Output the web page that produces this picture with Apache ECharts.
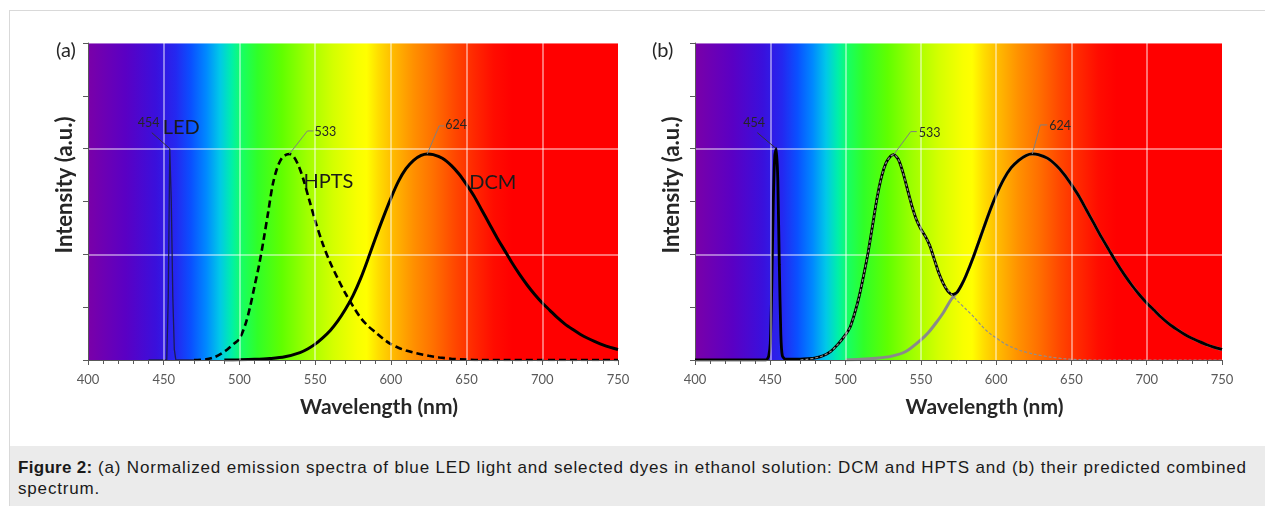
<!DOCTYPE html>
<html><head><meta charset="utf-8">
<script src="https://cdn.jsdelivr.net/npm/echarts@6/dist/echarts.min.js"></script>
<style>
html,body{margin:0;padding:0;background:#fff;}
#wrap{position:relative;width:1265px;height:506px;overflow:hidden;background:#fff;}
#frame{position:absolute;left:9px;top:10px;width:1270px;height:510px;border:1px solid #d9d9d9;box-sizing:border-box;}
#chart{position:absolute;left:0;top:0;width:1265px;height:446px;}
#cap{position:absolute;left:10px;top:446px;width:1255px;height:60px;background:#ebebeb;font-family:"Liberation Sans",Arial,sans-serif;font-size:17px;letter-spacing:0.83px;color:#1a1a1a;line-height:21px;padding:11px 0 0 8px;box-sizing:border-box;white-space:nowrap;}
</style></head>
<body>
<div id="wrap">
<div id="frame"></div>
<div id="chart"></div>
<div id="cap"><b style="letter-spacing:0.3px">Figure 2:</b> (a) Normalized emission spectra of blue LED light and selected dyes in ethanol solution: DCM and HPTS and (b) their predicted combined<br>spectrum.</div>
</div>
<script>
// ---- data (wavelength nm, normalized intensity) ----
const xTicks = [400, 450, 500, 550, 600, 650, 700, 750];
const ledA = [[440,0],[452,0],[453,0.3],[454,1.0],[455,0.75],[456,0.3],[457,0.05],[458,0],[470,0]];
const hptsA = [[470,0],[478,0.003],[483,0.012],[488,0.03],[492,0.05],[496,0.075],[500,0.1],[504,0.17],[507,0.25],[510,0.35],[513,0.45],[516,0.57],[519,0.7],[522,0.83],[525,0.91],[528,0.955],[531,0.972],[533,0.975],[536,0.96],[539,0.92],[542,0.86],[546,0.76],[550,0.66],[555,0.55],[560,0.46],[565,0.385],[570,0.315],[575,0.255],[580,0.2],[585,0.16],[590,0.13],[595,0.1],[600,0.075],[605,0.058],[610,0.045],[617,0.032],[625,0.02],[632,0.012],[640,0.006],[650,0.002],[660,0],[750,0]];
const dcmA = [[490,0],[500,0.001],[510,0.003],[520,0.007],[530,0.015],[540,0.035],[545,0.052],[550,0.075],[555,0.105],[560,0.14],[565,0.185],[570,0.24],[575,0.305],[580,0.385],[585,0.48],[590,0.58],[595,0.675],[600,0.765],[605,0.845],[610,0.905],[615,0.945],[620,0.968],[624,0.975],[628,0.972],[634,0.955],[640,0.92],[645,0.88],[650,0.83],[655,0.775],[660,0.71],[665,0.645],[670,0.58],[675,0.52],[680,0.46],[685,0.405],[690,0.355],[695,0.31],[700,0.27],[705,0.235],[710,0.2],[715,0.17],[720,0.145],[725,0.122],[730,0.103],[735,0.087],[740,0.072],[745,0.06],[750,0.05]];
const hptsB = [[470,0],[475,0.004],[480,0.01],[485,0.02],[490,0.04],[495,0.075],[500,0.12],[503,0.155],[506,0.22],[509,0.3],[512,0.4],[515,0.51],[518,0.64],[521,0.77],[524,0.87],[527,0.935],[530,0.965],[532,0.972],[535,0.95],[538,0.89],[541,0.81],[544,0.73],[547,0.665],[550,0.62],[553,0.585],[556,0.54],[559,0.475],[562,0.41],[565,0.36],[568,0.33],[571,0.305],[575,0.275],[580,0.24],[585,0.205],[590,0.165],[595,0.13],[600,0.105],[605,0.08],[610,0.062],[616,0.045],[625,0.028],[636,0.014],[645,0.006],[655,0.002],[665,0],[750,0]];
const dcmB = [[500,0],[510,0.003],[520,0.008],[530,0.017],[540,0.04],[550,0.095],[555,0.13],[560,0.175],[565,0.225],[570,0.285],[574,0.32],[577,0.355],[580,0.4],[585,0.49],[590,0.59],[595,0.69],[600,0.78],[605,0.855],[610,0.91],[615,0.945],[620,0.968],[624,0.975],[628,0.972],[634,0.955],[640,0.92],[645,0.88],[650,0.83],[655,0.775],[660,0.71],[665,0.645],[670,0.58],[675,0.52],[680,0.46],[685,0.405],[690,0.355],[695,0.31],[700,0.27],[705,0.235],[710,0.2],[715,0.17],[720,0.145],[725,0.122],[730,0.103],[735,0.087],[740,0.072],[745,0.06],[750,0.05]];
const combinedB = [[400,0],[447,0],[448,0.005],[449,0.02],[450,0.08],[451,0.35],[452,0.75],[453,0.97],[454,1.0],[455,0.85],[456,0.45],[457,0.12],[458,0.02],[460,0.004],[470,0.004],[475,0.006],[480,0.01],[485,0.02],[490,0.04],[495,0.075],[500,0.12],[503,0.155],[506,0.22],[509,0.3],[512,0.4],[515,0.51],[518,0.64],[521,0.77],[524,0.87],[527,0.935],[530,0.965],[532,0.972],[535,0.95],[538,0.89],[541,0.81],[544,0.73],[547,0.665],[550,0.62],[553,0.585],[556,0.54],[559,0.475],[562,0.41],[565,0.36],[568,0.325],[571,0.31],[574,0.32],[577,0.355],[580,0.4],[585,0.49],[590,0.59],[595,0.69],[600,0.78],[605,0.855],[610,0.91],[615,0.945],[620,0.968],[624,0.975],[628,0.972],[634,0.955],[640,0.92],[645,0.88],[650,0.83],[655,0.775],[660,0.71],[665,0.645],[670,0.58],[675,0.52],[680,0.46],[685,0.405],[690,0.355],[695,0.31],[700,0.27],[705,0.235],[710,0.2],[715,0.17],[720,0.145],[725,0.122],[730,0.103],[735,0.087],[740,0.072],[745,0.06],[750,0.05]];
const peakLabels = [
  {grid:0, text:'454', x:454, y:1.0},
  {grid:0, text:'533', x:533, y:0.975},
  {grid:0, text:'624', x:624, y:0.975},
  {grid:1, text:'454', x:454, y:1.0},
  {grid:1, text:'533', x:532, y:0.972},
  {grid:1, text:'624', x:624, y:0.975}
];
const nameLabels = [
  {grid:0, text:'LED', x:454, y:1.0},
  {grid:0, text:'HPTS', x:533, y:0.975},
  {grid:0, text:'DCM', x:624, y:0.975}
];
const panelLabels = ['(a)', '(b)'];
const xTitle = 'Wavelength (nm)';
const yTitle = 'Intensity (a.u.)';

// ---- styling ----
const FONT = 'Lato, "Open Sans", sans-serif';
const spectrum = [[400,'#7a00a8'],[425,'#5a00c4'],[445,'#3a10dc'],[458,'#2428f0'],[468,'#0a50ff'],[478,'#0088ff'],[487,'#00c8e8'],[495,'#00f0a8'],[502,'#18ff60'],[512,'#30ff28'],[528,'#60ff00'],[545,'#a0ff00'],[562,'#d4ff00'],[578,'#f8ff00'],[584,'#ffff00'],[592,'#ffdc00'],[602,'#ffb800'],[615,'#ff9000'],[628,'#ff7000'],[642,'#ff4800'],[655,'#ff2800'],[668,'#ff0c00'],[680,'#ff0000'],[750,'#ff0000']];
const grad = () => new echarts.graphic.LinearGradient(0,0,1,0, spectrum.map(s => ({offset:(s[0]-400)/350, color:s[1]})));

const grids = [
  {left:88, top:43, width:530, height:317},
  {left:695, top:43, width:527, height:317}
];
const panelLabelX = [56, 652];

function xAxisCfg(i){
  return {
    type:'value', gridIndex:i, min:400, max:750, interval:50,
    name:xTitle, nameLocation:'middle', nameGap:37,
    nameTextStyle:{fontFamily:FONT, fontWeight:'bold', fontSize:21, color:'#262626', padding:[0,0,0,52]},
    axisLine:{show:true, lineStyle:{color:'#595959', width:1}},
    axisTick:{show:true, length:5, lineStyle:{color:'#595959'}},
    minorTick:{show:true, splitNumber:5, length:4, lineStyle:{color:'#595959'}},
    axisLabel:{fontFamily:FONT, fontSize:13, color:'#595959', margin:13},
    splitLine:{show:true, showMinLine:false, showMaxLine:false, lineStyle:{color:'rgba(255,255,255,0.6)', width:1.5}},
    z:5
  };
}
function yAxisCfg(i){
  return {
    type:'value', gridIndex:i, min:0, max:1.5, interval:0.5,
    axisLine:{show:true, lineStyle:{color:'#595959', width:1}},
    axisTick:{show:true, length:5, lineStyle:{color:'#595959'}},
    minorTick:{show:true, splitNumber:2, length:5, lineStyle:{color:'#595959'}},
    axisLabel:{show:false},
    splitLine:{show:true, showMinLine:false, lineStyle:{color:'rgba(255,255,255,0.6)', width:1.5}}
  };
}
function line(i, data, color, width, type, z, smooth){
  return {type:'line', xAxisIndex:i, yAxisIndex:i, data:data, showSymbol:false, symbol:'none',
    smooth: smooth === undefined ? 0.3 : smooth, silent:true, z:z||2,
    lineStyle:{color:color, width:width, type:type||'solid'}};
}

const chart = echarts.init(document.getElementById('chart'), null, {renderer:'canvas'});
chart.setOption({
  animation:false,
  backgroundColor:'transparent',
  grid: grids.map(g => Object.assign({show:true, borderWidth:0, backgroundColor:grad()}, g)),
  xAxis:[xAxisCfg(0), xAxisCfg(1)],
  yAxis:[yAxisCfg(0), yAxisCfg(1)],
  series:[
    line(0, ledA, '#1c1c55', 1.3, 'solid', 3, false),
    line(0, hptsA, '#000', 2.6, [7,4], 3),
    line(0, dcmA, '#000', 3, 'solid', 3),
    line(1, dcmB, '#8a8a8a', 3, 'solid', 2),
    line(1, combinedB, '#000', 2.8, 'solid', 3, 0.2),
    line(1, hptsB, '#8f8f8f', 1.2, [3,2], 4)
  ]
});

// annotation text & leader lines anchored to data points
const P = (g,x,y) => chart.convertToPixel({gridIndex:g}, [x,y]);
const G = [];
const leaderDefs = {
  '0-454': {pts:[[-18,-16]], color:'#333', tx:-32, ty:-26},
  '0-533': {pts:[[18,-23],[24,-23]], color:'#7f7f7f', tx:25, ty:-22},
  '0-624': {pts:[[12,-28],[17,-28]], color:'#7f7f7f', tx:18, ty:-29},
  '1-454': {pts:[[-19,-16]], color:'#333', tx:-33, ty:-26},
  '1-533': {pts:[[17,-23],[23,-23]], color:'#7f7f7f', tx:25, ty:-22},
  '1-624': {pts:[[8,-29],[15,-29]], color:'#7f7f7f', tx:17, ty:-28}
};
peakLabels.forEach(p => {
  const c = P(p.grid, p.x, p.y);
  const d = leaderDefs[p.grid + '-' + p.text];
  const pts = [[c[0], c[1]]].concat(d.pts.map(o => [c[0]+o[0], c[1]+o[1]]));
  G.push({type:'polyline', shape:{points:pts}, style:{stroke:d.color, lineWidth:1, fill:null}, z:20});
  G.push({type:'text', x:c[0]+d.tx, y:c[1]+d.ty, style:{text:p.text, font:'12.5px ' + FONT, fill:'#262626', textAlign:'left', textVerticalAlign:'middle'}, z:21});
});
const nameOff = {'LED':[-7,-21], 'HPTS':[14,28], 'DCM':[42,29]};
nameLabels.forEach(n => {
  const c = P(n.grid, n.x, n.y);
  const o = nameOff[n.text];
  G.push({type:'text', x:c[0]+o[0], y:c[1]+o[1], style:{text:n.text, font:'20px ' + FONT, fill:'#1a1a1a', textAlign:'left', textVerticalAlign:'middle'}, z:21});
});
grids.forEach((g, i) => {
  G.push({type:'text', x:g.left - 23, y:g.top + 142, rotation:Math.PI/2,
    style:{text:yTitle, font:'bold 22px ' + FONT, fill:'#262626', textAlign:'center', textVerticalAlign:'middle'}});
  G.push({type:'text', x:panelLabelX[i], y:g.top + 8, style:{text:panelLabels[i], font:'20px ' + FONT, fill:'#262626', textAlign:'left', textVerticalAlign:'middle'}});
});
chart.setOption({graphic:G});
</script>
</body></html>
